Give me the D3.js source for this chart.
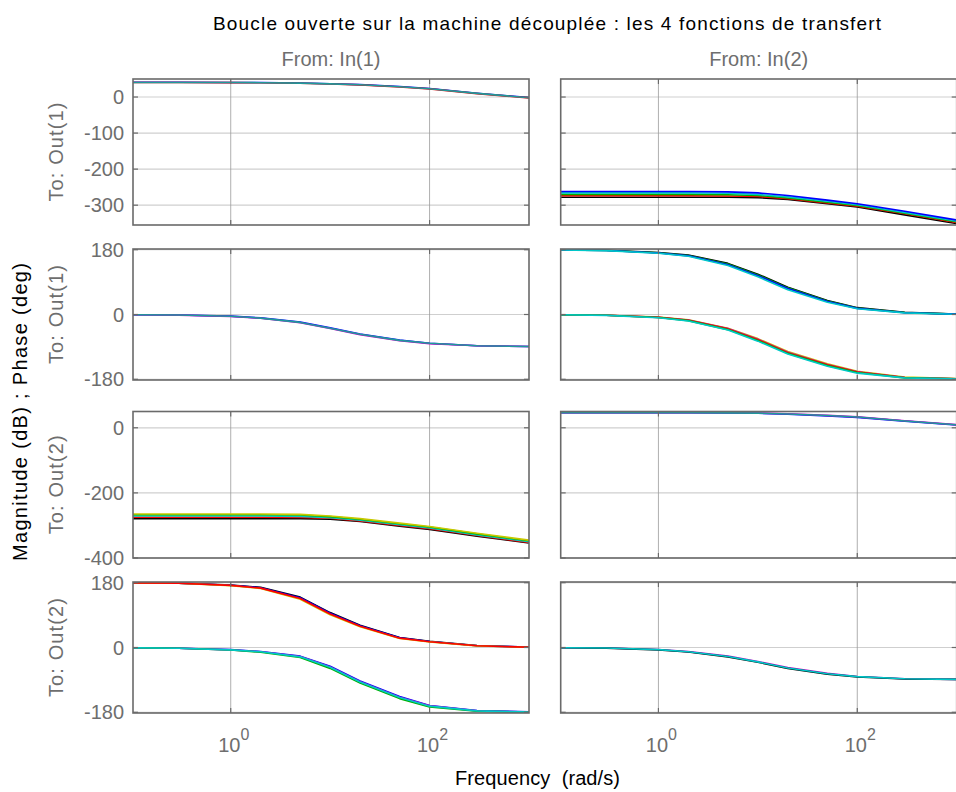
<!DOCTYPE html>
<html>
<head>
<meta charset="utf-8">
<script src="https://cdn.jsdelivr.net/npm/d3@7/dist/d3.min.js"></script>
<style>
  html, body { margin: 0; padding: 0; background: #fff; }
  svg { display: block; font-family: "Liberation Sans", Arial, Helvetica, sans-serif; }
</style>
</head>
<body>
<svg id="chart" width="956" height="792"></svg>
<script>
// ---------------- DATA ----------------
const title = "Boucle ouverte sur la machine découplée : les 4 fonctions de transfert";
const inputLabels = ["From: In(1)", "From: In(2)"];
const rowLabels = ["To: Out(1)", "To: Out(1)", "To: Out(2)", "To: Out(2)"];
const yAxisLabel = "Magnitude (dB) ; Phase (deg)";
const xAxisLabel = "Frequency  (rad/s)";
const xTickExps = [0, 2];
const magTicksOut1 = [0, -100, -200, -300];
const phaseTicks = [180, 0, -180];
const magTicksOut2 = [0, -200, -400];

const freq = [0.1, 0.3, 1, 2, 5, 10, 20, 50, 100, 300, 1000];

// Row 1 left : magnitude Out(1) <- In(1)
const magO1I1_blue = [40.8, 40.8, 40.5, 40.1, 38.9, 37, 34.5, 29, 23.5, 10.5, -1.5];
const magO1I1_red  = [40.3, 40.3, 40, 39.6, 38.2, 36.2, 33.6, 28, 22.5, 9.5, -2.5];
const magO1I1_teal = [40.5, 40.5, 40.2, 39.8, 38.5, 36.5, 34, 28.5, 23, 10, -2];

// Row 1 right : magnitude Out(1) <- In(2)
const magO1I2_blue  = [-262, -262, -262, -262, -263, -266, -273, -286, -296, -317, -341];
const magO1I2_cyan  = [-266, -266, -266, -266, -267, -270, -277, -289, -299, -320, -344];
const magO1I2_green = [-270, -270, -270, -270, -271, -273, -280, -292, -301, -322, -346];
const magO1I2_red   = [-274, -274, -274, -274, -274.5, -276, -282, -294, -303, -324, -348];
const magO1I2_black = [-278, -278, -278, -278, -278, -279, -284, -296, -305, -327, -351];

// Row 2 left : phase Out(1) <- In(1)
const phO1I1_blue    = [-0.5, -1.5, -4.5, -9.5, -21, -37, -54, -71, -80, -87, -89];
const phO1I1_magenta = [-0.5, -1.6, -5.5, -10.5, -23, -39, -56, -73, -81, -87, -89];
const phO1I1_teal    = [-0.5, -1.5, -5, -10, -22, -38, -55, -72, -80, -87, -89];

// Row 2 right : phase Out(1) <- In(2)  (two families)
const phO1I2_up_black = [180, 178.5, 172, 165, 142, 112, 76, 39, 19, 6, 1];
const phO1I2_up_green = [179.5, 178, 171.5, 164, 140, 110, 74, 37.5, 18, 5.5, 1];
const phO1I2_up_blue  = [179.5, 178, 171, 163, 138, 108, 72, 36, 17, 5, 1];
const phO1I2_up_cyan  = [179.5, 177.5, 170, 162, 136, 105, 69, 34, 16, 4.5, 0.5];
const phO1I2_lo_yellow  = [-0.5, -2, -7, -15, -38, -67, -103, -137, -158, -174, -178];
const phO1I2_lo_magenta = [-0.5, -2, -7.5, -15.5, -39, -69, -105, -139, -159, -175, -178.5];
const phO1I2_lo_red     = [-0.5, -2, -8, -16, -40, -70, -106, -140, -160, -175, -178.5];
const phO1I2_lo_green   = [-0.5, -2, -8.5, -17, -42, -72, -108, -142, -161, -176, -179];
const phO1I2_lo_cyan    = [-0.5, -2.5, -9, -18, -43, -74, -110, -144, -163, -176, -179];

// Row 3 left : magnitude Out(2) <- In(1)
const magO2I1_yellow = [-265, -265, -265, -265, -266, -271, -279, -293, -303, -324, -345];
const magO2I1_green  = [-267, -267, -267, -267, -268, -273, -281, -295, -305, -326, -347];
const magO2I1_cyan   = [-271, -271, -271, -271, -272, -276, -284, -298, -308, -329, -350];
const magO2I1_red    = [-275, -275, -275, -275, -275.5, -278, -286, -300, -310, -331, -352];
const magO2I1_black  = [-279, -279, -279, -279, -279, -281, -288, -302, -312, -333, -354];

// Row 3 right : magnitude Out(2) <- In(2)
const magO2I2_blue    = [46, 46, 46, 46, 45.5, 44.5, 41.5, 36, 32, 20.5, 8.5];
const magO2I2_magenta = [46.2, 46.2, 46.2, 46.2, 46, 45.3, 43, 38, 33.5, 21.5, 9.5];
const magO2I2_teal    = [46, 46, 46, 46, 45.8, 45, 42.5, 37.5, 33, 21, 9];

// Row 4 left : phase Out(2) <- In(1)  (two families)
const phO2I1_up_black  = [180, 179, 173.5, 167, 140, 97, 62, 28, 17, 5.5, 1];
const phO2I1_up_blue   = [179.5, 178.5, 173, 166, 138, 95, 60.5, 27, 16.5, 5, 1];
const phO2I1_up_yellow = [179.5, 178.5, 172, 164, 134, 91, 57.5, 25, 15.5, 4.5, 0.5];
const phO2I1_up_red    = [179.5, 178.5, 172.5, 165, 136, 93, 59, 26, 16, 5, 0.5];
const phO2I1_lo_blue    = [-0.5, -2, -6, -11, -24, -52, -93, -136, -161, -175, -179];
const phO2I1_lo_magenta = [-0.5, -2, -6.5, -12, -25, -54, -95, -138, -162, -176, -179.5];
const phO2I1_lo_green   = [-0.5, -2, -7, -13, -28, -58, -99, -142, -165, -177, -180];
const phO2I1_lo_cyan    = [-0.5, -2, -6.5, -12, -26, -55, -96, -139, -163, -176, -179.5];

// Row 4 right : phase Out(2) <- In(2)
const phO2I2_magenta = [-0.5, -1.5, -5.5, -11.5, -24, -39, -56, -72, -80.5, -87, -88.5];
const phO2I2_black   = [-0.5, -1.6, -6.5, -12.5, -26, -41, -58, -74, -81.5, -87.5, -88.5];
const phO2I2_cyan    = [-0.5, -1.5, -6, -12, -25, -40, -57, -73, -81, -87, -88.5];

const colors = {
  blue: "#0000ff", green: "#00b000", red: "#ff0000", cyan: "#00c8c8",
  magenta: "#c800c8", yellow: "#c8c800", black: "#000000", teal: "#1f9a9a"
};

// ---------------- LAYOUT ----------------
const svg = d3.select("#chart");
const colX = [133, 560.7];
const panelW = 396;
const rows = [
  { top: 79,    bottom: 225, domain: [-355, 50],  ticks: magTicksOut1 },
  { top: 249,   bottom: 380, domain: [-182, 182], ticks: phaseTicks },
  { top: 411.5, bottom: 558, domain: [-400, 50],  ticks: magTicksOut2 },
  { top: 582,   bottom: 713, domain: [-182, 182], ticks: phaseTicks }
];

const panels = [
  { r: 0, c: 0, series: [["blue", magO1I1_blue], ["red", magO1I1_red], ["teal", magO1I1_teal]] },
  { r: 0, c: 1, series: [["black", magO1I2_black], ["red", magO1I2_red], ["green", magO1I2_green], ["cyan", magO1I2_cyan], ["blue", magO1I2_blue]] },
  { r: 1, c: 0, series: [["blue", phO1I1_blue], ["magenta", phO1I1_magenta], ["teal", phO1I1_teal]] },
  { r: 1, c: 1, series: [["black", phO1I2_up_black], ["green", phO1I2_up_green], ["blue", phO1I2_up_blue], ["cyan", phO1I2_up_cyan],
                         ["yellow", phO1I2_lo_yellow], ["magenta", phO1I2_lo_magenta], ["red", phO1I2_lo_red], ["green", phO1I2_lo_green], ["cyan", phO1I2_lo_cyan]] },
  { r: 2, c: 0, series: [["black", magO2I1_black], ["red", magO2I1_red], ["cyan", magO2I1_cyan], ["green", magO2I1_green], ["yellow", magO2I1_yellow]] },
  { r: 2, c: 1, series: [["blue", magO2I2_blue], ["magenta", magO2I2_magenta], ["teal", magO2I2_teal]] },
  { r: 3, c: 0, series: [["black", phO2I1_up_black], ["blue", phO2I1_up_blue], ["yellow", phO2I1_up_yellow], ["red", phO2I1_up_red],
                         ["blue", phO2I1_lo_blue], ["magenta", phO2I1_lo_magenta], ["green", phO2I1_lo_green], ["cyan", phO2I1_lo_cyan]] },
  { r: 3, c: 1, series: [["magenta", phO2I2_magenta], ["black", phO2I2_black], ["cyan", phO2I2_cyan]] }
];

const labelGray = "#6e6e6e";
const boxGray = "#6a6a6a";
const fontSize = 20;

const defs = svg.append("defs");

panels.forEach((p, i) => {
  const row = rows[p.r];
  const x0 = colX[p.c];
  const x = d3.scaleLog().domain([0.104, 1000]).range([x0, x0 + panelW]);
  const y = d3.scaleLinear().domain(row.domain).range([row.bottom, row.top]);
  const g = svg.append("g");

  // horizontal grid
  g.selectAll(".hg").data(row.ticks).enter().append("line")
    .attr("x1", x0).attr("x2", x0 + panelW)
    .attr("y1", d => y(d)).attr("y2", d => y(d))
    .attr("stroke", "#cfcfcf").attr("stroke-width", 1.2);
  // vertical grid
  g.selectAll(".vg").data(xTickExps).enter().append("line")
    .attr("x1", d => x(Math.pow(10, d))).attr("x2", d => x(Math.pow(10, d)))
    .attr("y1", row.top).attr("y2", row.bottom)
    .attr("stroke", "#9a9a9a").attr("stroke-width", 0.8);

  // clip
  const cid = "clip" + i;
  defs.append("clipPath").attr("id", cid).append("rect")
    .attr("x", x0).attr("y", row.top).attr("width", panelW).attr("height", row.bottom - row.top);

  const line = d3.line().x((d, k) => x(freq[k])).y(d => y(d));
  const lg = g.append("g").attr("clip-path", `url(#${cid})`);
  p.series.forEach(([col, vals]) => {
    lg.append("path").datum(vals)
      .attr("d", line)
      .attr("fill", "none")
      .attr("stroke", colors[col])
      .attr("stroke-width", 1.6)
      .attr("stroke-linejoin", "round");
  });

  // inward ticks
  const tl = 5;
  row.ticks.forEach(t => {
    g.append("line").attr("x1", x0).attr("x2", x0 + tl).attr("y1", y(t)).attr("y2", y(t))
      .attr("stroke", boxGray).attr("stroke-width", 1.2);
    g.append("line").attr("x1", x0 + panelW).attr("x2", x0 + panelW - tl).attr("y1", y(t)).attr("y2", y(t))
      .attr("stroke", boxGray).attr("stroke-width", 1.2);
  });
  xTickExps.forEach(e => {
    const xx = x(Math.pow(10, e));
    g.append("line").attr("x1", xx).attr("x2", xx).attr("y1", row.top).attr("y2", row.top + tl)
      .attr("stroke", boxGray).attr("stroke-width", 1.2);
    g.append("line").attr("x1", xx).attr("x2", xx).attr("y1", row.bottom).attr("y2", row.bottom - tl)
      .attr("stroke", boxGray).attr("stroke-width", 1.2);
  });

  // box
  g.append("rect").attr("x", x0).attr("y", row.top).attr("width", panelW).attr("height", row.bottom - row.top)
    .attr("fill", "none").attr("stroke", boxGray).attr("stroke-width", 1.6);

  // y tick labels on left column
  if (p.c === 0) {
    g.selectAll(".yl").data(row.ticks).enter().append("text")
      .attr("x", x0 - 9).attr("y", d => y(d)).attr("dy", "0.36em")
      .attr("text-anchor", "end").attr("font-size", fontSize).attr("fill", labelGray)
      .text(d => d);
  }
  // x tick labels on bottom row
  if (p.r === 3) {
    xTickExps.forEach(e => {
      const t = g.append("text").attr("x", x(Math.pow(10, e)) + 3).attr("y", 752)
        .attr("text-anchor", "middle").attr("font-size", fontSize).attr("fill", labelGray);
      t.append("tspan").text("10");
      t.append("tspan").attr("dy", -12).attr("font-size", 16).text(String(e));
    });
  }
});

// row labels
rows.forEach((row, r) => {
  const cy = (row.top + row.bottom) / 2;
  svg.append("text").attr("transform", `translate(63,${cy}) rotate(-90)`)
    .attr("text-anchor", "middle").attr("font-size", fontSize).attr("fill", labelGray)
    .attr("textLength", 99).attr("lengthAdjust", "spacing")
    .text(rowLabels[r]);
});

// column labels
inputLabels.forEach((lab, c) => {
  svg.append("text").attr("x", colX[c] + panelW / 2).attr("y", 66)
    .attr("text-anchor", "middle").attr("font-size", fontSize).attr("fill", labelGray)
    .attr("textLength", 99).attr("lengthAdjust", "spacing")
    .text(lab);
});

// title
svg.append("text").attr("x", 547).attr("y", 30).attr("text-anchor", "middle")
  .attr("font-size", 19).attr("fill", "#000")
  .attr("textLength", 668).attr("lengthAdjust", "spacing")
  .text(title);

// global y label
svg.append("text").attr("transform", `translate(27,412) rotate(-90)`)
  .attr("text-anchor", "middle").attr("font-size", fontSize).attr("fill", "#000")
  .attr("textLength", 298).attr("lengthAdjust", "spacing")
  .text(yAxisLabel);

// global x label
svg.append("text").attr("x", 537.5).attr("y", 785).attr("text-anchor", "middle")
  .attr("font-size", fontSize).attr("fill", "#000").style("white-space", "pre")
  .attr("textLength", 165).attr("lengthAdjust", "spacing")
  .text(xAxisLabel);
</script>
</body>
</html>
